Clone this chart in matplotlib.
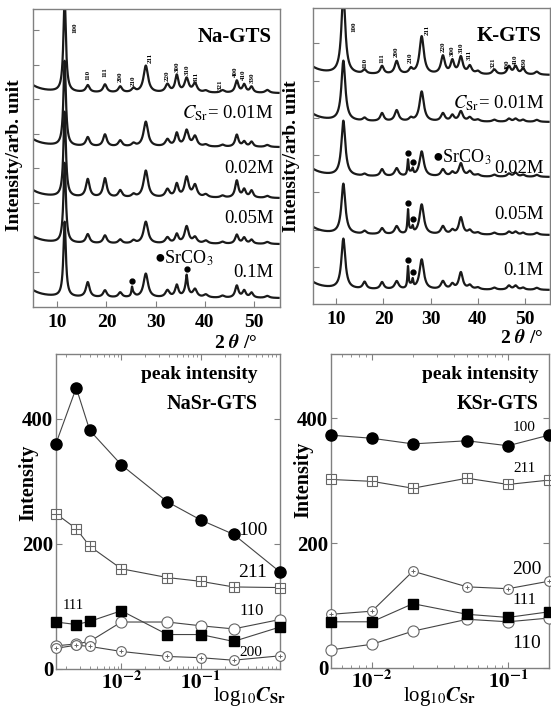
import numpy as np
import matplotlib.pyplot as plt
from matplotlib.ticker import FixedLocator, FixedFormatter, LogLocator, NullFormatter

plt.rcParams['font.family'] = ['Liberation Serif', 'DejaVu Sans']
plt.rcParams['mathtext.fontset'] = 'stix'

# ---------------- XRD data (peaks) ----------------
tt = np.linspace(5, 55, 2500)

na_pos = [11.5, 16.2, 19.7, 22.8, 25.5, 28.0, 32.4, 34.3, 36.3, 38.0, 40.2, 43.6, 46.5, 48.0, 49.5, 52.7]
na_wid = [0.6, 0.9, 0.9, 0.9, 0.9, 1.1, 1.0, 0.8, 1.0, 1.0, 1.1, 1.0, 0.8, 0.8, 0.8, 1.0]
na_heights = [
    [95, 7, 8, 6, 4, 27, 8, 17, 14, 9, 2, 2.5, 12, 8, 6, 3],
    [85, 9, 12, 6, 3, 25, 7, 13, 16, 10, 2, 2, 12, 5, 5, 2],
    [85, 18, 19, 7, 3, 27, 8, 13, 20, 12, 3, 2, 17, 8, 7, 2],
    [80, 9, 8, 4, 3, 22, 6, 9, 17, 6, 3, 2, 9, 6, 4, 2],
    [75, 15, 7, 5, 3, 24, 7, 12, 12, 8, 3, 2, 12, 7, 5, 2],
]
na_base = [214, 160, 109, 63, 9]
na_sr_pos = [25.2, 36.3]
na_sr_h = [[0, 0], [0, 0], [0, 0], [0, 0], [8, 10]]
na_hkl = ['100', '110', '111', '200', '210', '211', '220', '300', '310', '311', '321', '400', '410', '330']
na_hkl_x = [13.5, 16.2, 19.7, 22.7, 25.5, 28.9, 32.4, 34.3, 36.4, 38.3, 43.1, 46.2, 47.9, 49.6]
na_hkl_y = [279, 232, 235, 230, 226, 249, 231, 240, 237, 230, 222, 235, 232, 229]

k_pos = [11.5, 16.0, 19.7, 22.8, 25.8, 28.1, 32.6, 34.6, 36.4, 38.3, 40.0, 43.5, 46.6, 48.0, 49.6, 52.5]
k_wid = [1.0, 0.9, 0.9, 1.0, 0.9, 1.1, 1.0, 0.9, 1.0, 1.0, 1.1, 1.0, 0.9, 0.9, 0.9, 1.0]
k_heights = [
    [80, 4, 8, 13, 5, 38, 18, 13, 17, 8, 3, 5, 8, 8, 6, 3],
    [60, 3, 8, 11, 3, 30, 8, 6, 10, 4, 2, 2, 3, 3, 2, 2],
    [55, 2, 7, 8, 3, 25, 7, 4, 13, 5, 2, 2, 3, 4, 2, 2],
    [50, 3, 6, 8, 3, 30, 8, 4, 17, 4, 2, 2, 3, 3, 2, 2],
    [50, 7, 7, 8, 3, 30, 8, 5, 17, 4, 2, 2, 4, 4, 2, 2],
]
k_base = [229, 182, 127, 69, 14]
k_sr_pos = [25.2, 26.2]
k_sr_h = [[0, 0], [0, 0], [15, 5], [23, 5], [21, 7]]
k_hkl = ['100', '110', '111', '200', '210', '211', '220', '300', '310', '311', '321', '400', '410', '330']
k_hkl_x = [13.75, 16.0, 19.7, 22.8, 25.7, 29.2, 32.6, 34.5, 36.4, 38.1, 43.3, 46.2, 47.9, 49.8]
k_hkl_y = [277, 241, 246, 252, 246, 274, 257, 253, 256, 249, 241, 239, 244, 241]

conc_labels = ['', r'$C_{\mathrm{Sr}}$= 0.01M', '0.02M', '0.05M', '0.1M']
na_lab_y = [None, 194, 139, 89, 35]
k_lab_y = [None, 201, 136, 90, 34]

# ---------------- peak intensity data ----------------
na_c = [0.0015, 0.0027, 0.004, 0.01, 0.038, 0.1, 0.26, 1.0]
na_100 = [360, 449, 381, 326, 267, 238, 215, 155]
na_211 = [248, 224, 196, 160, 146, 140, 131, 130]
na_111 = [75, 71, 76, 93, 55, 55, 44, 67]
na_110 = [37, 40, 44, 75, 75, 69, 64, 79]
na_200 = [33, 38, 36, 28, 20, 18, 14, 21]

k_c = [0.005, 0.01, 0.02, 0.05, 0.1, 0.2]
k_100 = [373, 368, 359, 364, 356, 373]
k_211 = [302, 299, 288, 304, 294, 301]
k_200 = [86, 91, 155, 130, 127, 139]
k_111 = [74, 74, 103, 86, 81, 90]
k_110 = [29, 38, 59, 78, 74, 80]


def lorentz(pos, wid, h):
    y = np.zeros_like(tt)
    for p, w, a in zip(pos, wid, h):
        y += a / (1 + ((tt - p) / (w / 2)) ** 2)
    return y


def background():
    return 20 / (1 + ((tt - 2.0) / 2.5) ** 2)


fig = plt.figure(figsize=(5.51, 7.11), dpi=100)
ax1 = fig.add_axes([0.0593, 0.568, 0.449, 0.419])
ax2 = fig.add_axes([0.5675, 0.5724, 0.4307, 0.4163])
ax3 = fig.add_axes([0.1016, 0.0591, 0.4065, 0.443])
ax4 = fig.add_axes([0.6007, 0.0605, 0.3956, 0.4416])

for ax in [ax1, ax2, ax3, ax4]:
    for s in ax.spines.values():
        s.set_color('#808080')
        s.set_linewidth(1.0)


def draw_xrd(ax, pos, wid, heights, base, sr_pos, sr_h, hkl, hx, hy, title, lab_y, ylim, yt):
    for i in range(len(base)):
        y = base[i] + lorentz(pos, wid, heights[i]) + background()
        y += lorentz(sr_pos, [0.3] * len(sr_pos), sr_h[i])
        ax.plot(tt, y, color='#1a1a1a', lw=1.6)
        for p, h in zip(sr_pos, sr_h[i]):
            if h > 0:
                top = base[i] + np.interp(p, tt, lorentz(pos, wid, heights[i]) + background()) + h
                ax.plot(p, top + 6, 'o', color='black', ms=3.5)
        if lab_y[i] is not None:
            ax.text(54, lab_y[i], conc_labels[i], ha='right', va='center', fontsize=13.5)
    for lbl, x, y in zip(hkl, hx, hy):
        ax.text(x, y, lbl, rotation=90, fontsize=5, fontweight='bold', ha='center', va='center')
    ax.text(53.5, ylim - 28, title, ha='right', va='center', fontsize=15, fontweight='bold')
    ax.set_xlim(5, 55.3)
    ax.set_ylim(0, ylim)
    ax.set_xticks([10, 20, 30, 40, 50])
    ax.set_yticks(yt)
    ax.set_yticklabels([])
    ax.tick_params(direction='in', length=4, color='#808080', labelsize=14, pad=5)
    for t in ax.get_xticklabels():
        t.set_fontweight('bold')


draw_xrd(ax1, na_pos, na_wid, na_heights, na_base, na_sr_pos, na_sr_h, na_hkl, na_hkl_x, na_hkl_y,
         'Na-GTS', na_lab_y, 298, np.arange(35, 298, 34.6))
draw_xrd(ax2, k_pos, k_wid, k_heights, k_base, k_sr_pos, k_sr_h, k_hkl, k_hkl_x, k_hkl_y,
         'K-GTS', k_lab_y, 296, np.arange(37, 296, 37.3))

ax1.text(29.7, 49, '●SrCO$_3$', fontsize=13, va='center', ha='left')
ax2.text(30.2, 147, '●SrCO$_3$', fontsize=13, va='center', ha='left')

fig.text(15 / 551, 1 - 155 / 711, 'Intensity/arb. unit', rotation=90, ha='center', va='center',
         fontsize=14, fontweight='bold')
fig.text(291 / 551, 1 - 156 / 711, 'Intensity/arb. unit', rotation=90, ha='center', va='center',
         fontsize=14, fontweight='bold')
fig.text(236 / 551, 1 - 343 / 711, r'2 $\mathbfit{\theta}$ /°', ha='center', va='center',
         fontsize=14, fontweight='bold')
fig.text(522 / 551, 1 - 338 / 711, r'2 $\mathbfit{\theta}$ /°', ha='center', va='center',
         fontsize=14, fontweight='bold')


def draw_series(ax, c, vals, kind):
    ax.plot(c, vals, '-', color='#444444', lw=0.8, zorder=2, clip_on=False)
    if kind == 'fc':
        ax.plot(c, vals, 'o', mfc='black', mec='black', ms=8, zorder=3, clip_on=False, ls='none')
    elif kind == 'fs':
        ax.plot(c, vals, 's', mfc='black', mec='black', ms=7, zorder=3, clip_on=False, ls='none')
    elif kind == 'os':
        ax.plot(c, vals, 's', mfc='white', mec='#666666', ms=7.5, mew=0.8, zorder=3, clip_on=False, ls='none')
        ax.plot(c, vals, '+', color='#666666', ms=7.5, mew=0.8, zorder=4, clip_on=False, ls='none')
    elif kind == 'oc':
        ax.plot(c, vals, 'o', mfc='white', mec='#666666', ms=8, mew=0.8, zorder=3, clip_on=False, ls='none')
    elif kind == 'pc':
        ax.plot(c, vals, 'o', mfc='white', mec='#666666', ms=7, mew=0.8, zorder=3, clip_on=False, ls='none')
        ax.plot(c, vals, '+', color='#666666', ms=3.5, mew=0.7, zorder=4, clip_on=False, ls='none')


draw_series(ax3, na_c, na_100, 'fc')
draw_series(ax3, na_c, na_211, 'os')
draw_series(ax3, na_c, na_110, 'oc')
draw_series(ax3, na_c, na_200, 'pc')
draw_series(ax3, na_c, na_111, 'fs')

draw_series(ax4, k_c, k_100, 'fc')
draw_series(ax4, k_c, k_211, 'os')
draw_series(ax4, k_c, k_200, 'pc')
draw_series(ax4, k_c, k_110, 'oc')
draw_series(ax4, k_c, k_111, 'fs')

ax3.text(0.30, 221, '100', fontsize=14, va='center')
ax3.text(0.296, 154, '211', fontsize=14, va='center')
ax3.text(0.00184, 101, '111', fontsize=10.5, va='center')
ax3.text(0.31, 93, '110', fontsize=12, va='center')
ax3.text(0.31, 27, '200', fontsize=11, va='center')

ax4.text(0.109, 386, '100', fontsize=11, va='center')
ax4.text(0.109, 320, '211', fontsize=11, va='center')
ax4.text(0.107, 157, '200', fontsize=14, va='center')
ax4.text(0.107, 109, '111', fontsize=12, va='center')
ax4.text(0.107, 40, '110', fontsize=14, va='center')

for ax, lim, ttl, tx in [(ax3, (0.0015, 1.0), 'NaSr-GTS', 0.90), (ax4, (0.005, 0.2), 'KSr-GTS', 0.954)]:
    ax.set_xscale('log')
    ax.set_xlim(*lim)
    ax.set_ylim(0, 503)
    ax.set_yticks([0, 200, 400])
    ax.xaxis.set_major_locator(FixedLocator([0.01, 0.1]))
    ax.xaxis.set_major_formatter(FixedFormatter([r'$\mathbf{10^{-2}}$', r'$\mathbf{10^{-1}}$']))
    ax.xaxis.set_minor_locator(LogLocator(base=10, subs=np.arange(2, 10)))
    ax.xaxis.set_minor_formatter(NullFormatter())
    ax.tick_params(which='both', direction='in', top=True, right=True, color='#808080')
    ax.tick_params(which='major', length=4, labelsize=15, pad=2)
    ax.tick_params(which='minor', length=2)
    for t in ax.get_yticklabels():
        t.set_fontweight('bold')
    ax.text(tx, 0.935, 'peak intensity', transform=ax.transAxes, ha='right', va='center',
            fontsize=14, fontweight='bold')
    ax.text(tx, 0.84, ttl, transform=ax.transAxes, ha='right', va='center',
            fontsize=14.5, fontweight='bold')

fig.text(28 / 551, 1 - 483 / 711, 'Intensity', rotation=90, ha='center', va='center',
         fontsize=14.5, fontweight='bold')
fig.text(303 / 551, 1 - 480 / 711, 'Intensity', rotation=90, ha='center', va='center',
         fontsize=14.5, fontweight='bold')
fig.text(250 / 551, 1 - 697 / 711, r'log$_{10}$$\mathbfit{C}_{\mathbf{Sr}}$', ha='center', va='center',
         fontsize=15)
fig.text(440 / 551, 1 - 697 / 711, r'log$_{10}$$\mathbfit{C}_{\mathbf{Sr}}$', ha='center', va='center',
         fontsize=15)

fig.savefig('out.png', dpi=100)
